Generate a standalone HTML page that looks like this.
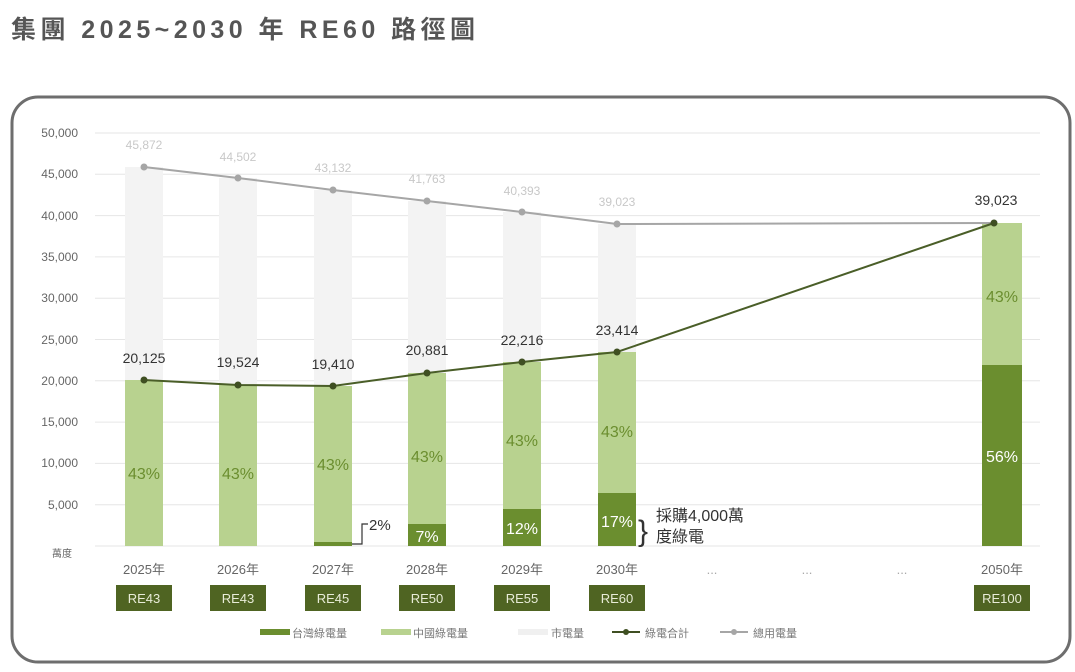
<!DOCTYPE html>
<html><head><meta charset="utf-8"><style>
body{margin:0;background:#fff;width:1075px;height:667px;overflow:hidden;font-family:"Liberation Sans","Noto Sans CJK TC",sans-serif}
</style></head><body>
<svg width="1075" height="667" xmlns="http://www.w3.org/2000/svg" font-family="Liberation Sans, Noto Sans CJK TC, sans-serif">
<text x="11" y="38" font-size="25" font-weight="bold" fill="#555" textLength="464" lengthAdjust="spacing">集團 2025~2030 年 RE60 路徑圖</text>
<rect x="12" y="97" width="1058" height="565" rx="26" fill="#fff" stroke="#6e6e6e" stroke-width="3"/>
<g stroke="#e6e6e6" stroke-width="1">
<line x1="95" x2="1040" y1="133" y2="133"/><line x1="95" x2="1040" y1="174.3" y2="174.3"/>
<line x1="95" x2="1040" y1="215.6" y2="215.6"/><line x1="95" x2="1040" y1="256.9" y2="256.9"/>
<line x1="95" x2="1040" y1="298.2" y2="298.2"/><line x1="95" x2="1040" y1="339.5" y2="339.5"/>
<line x1="95" x2="1040" y1="380.8" y2="380.8"/><line x1="95" x2="1040" y1="422.1" y2="422.1"/>
<line x1="95" x2="1040" y1="463.4" y2="463.4"/><line x1="95" x2="1040" y1="504.7" y2="504.7"/>
<line x1="95" x2="1040" y1="546" y2="546"/>
</g>
<g font-size="12" fill="#666" text-anchor="end">
<text x="78" y="137">50,000</text><text x="78" y="178">45,000</text><text x="78" y="220">40,000</text>
<text x="78" y="261">35,000</text><text x="78" y="302">30,000</text><text x="78" y="344">25,000</text>
<text x="78" y="385">20,000</text><text x="78" y="426">15,000</text><text x="78" y="467">10,000</text>
<text x="78" y="509">5,000</text><text x="72" y="557" font-size="10">萬度</text>
</g>
<g fill="#f3f3f3">
<rect x="125" y="167" width="38" height="213"/><rect x="219" y="178" width="38" height="206"/>
<rect x="314" y="190" width="38" height="195"/><rect x="408" y="201" width="38" height="172"/>
<rect x="503" y="212" width="38" height="150"/><rect x="598" y="224" width="38" height="128"/>
</g>
<g fill="#b8d28f">
<rect x="125" y="380" width="38" height="166"/><rect x="219" y="385" width="38" height="161"/>
<rect x="314" y="386" width="38" height="160"/><rect x="408" y="373" width="38" height="173"/>
<rect x="503" y="362" width="38" height="184"/><rect x="598" y="352" width="38" height="194"/>
<rect x="982" y="223" width="40" height="323"/>
</g>
<g fill="#6b8e2f">
<rect x="314" y="542" width="38" height="4"/><rect x="408" y="524" width="38" height="22"/>
<rect x="503" y="509" width="38" height="37"/><rect x="598" y="493" width="38" height="53"/>
<rect x="982" y="365" width="40" height="181"/>
</g>
<g font-size="16" fill="#6b8e2f" text-anchor="middle">
<text x="144" y="479">43%</text><text x="238" y="479">43%</text><text x="333" y="470">43%</text>
<text x="427" y="462">43%</text><text x="522" y="446">43%</text><text x="617" y="437">43%</text>
<text x="1002" y="302">43%</text>
</g>
<g font-size="16" fill="#fff" text-anchor="middle">
<text x="427" y="542">7%</text><text x="522" y="534">12%</text><text x="617" y="527">17%</text><text x="1002" y="462">56%</text>
</g>
<path d="M352 544 H362 V524 H368" fill="none" stroke="#333" stroke-width="1.2"/>
<text x="369" y="530" font-size="15" fill="#333">2%</text>
<text x="638" y="541" font-size="30" fill="#333">}</text>
<text x="656" y="521" font-size="16" fill="#333">採購4,000萬</text>
<text x="656" y="542" font-size="16" fill="#333">度綠電</text>
<polyline points="144,167 238,178 333,190 427,201 522,212 617,224 994,223" fill="none" stroke="#a6a6a6" stroke-width="2"/>
<g fill="#a6a6a6"><circle cx="144" cy="167" r="3.5"/><circle cx="238" cy="178" r="3.5"/><circle cx="333" cy="190" r="3.5"/><circle cx="427" cy="201" r="3.5"/><circle cx="522" cy="212" r="3.5"/><circle cx="617" cy="224" r="3.5"/></g>
<polyline points="144,380 238,385 333,386 427,373 522,362 617,352 994,223" fill="none" stroke="#4a5e28" stroke-width="2"/>
<g fill="#3f4f22"><circle cx="144" cy="380" r="3.5"/><circle cx="238" cy="385" r="3.5"/><circle cx="333" cy="386" r="3.5"/><circle cx="427" cy="373" r="3.5"/><circle cx="522" cy="362" r="3.5"/><circle cx="617" cy="352" r="3.5"/><circle cx="994" cy="223" r="3.5"/></g>
<g font-size="12" fill="#c8c8c8" text-anchor="middle">
<text x="144" y="149">45,872</text><text x="238" y="161">44,502</text><text x="333" y="172">43,132</text>
<text x="427" y="183">41,763</text><text x="522" y="195">40,393</text><text x="617" y="206">39,023</text>
</g>
<g font-size="14" fill="#333" text-anchor="middle">
<text x="144" y="363">20,125</text><text x="238" y="367">19,524</text><text x="333" y="369">19,410</text>
<text x="427" y="355">20,881</text><text x="522" y="345">22,216</text><text x="617" y="335">23,414</text>
<text x="996" y="205">39,023</text>
</g>
<g font-size="13" fill="#666" text-anchor="middle">
<text x="144" y="574">2025年</text><text x="238" y="574">2026年</text><text x="333" y="574">2027年</text>
<text x="427" y="574">2028年</text><text x="522" y="574">2029年</text><text x="617" y="574">2030年</text>
<text x="712" y="574" fill="#aaa">...</text><text x="807" y="574" fill="#aaa">...</text><text x="902" y="574" fill="#aaa">...</text>
<text x="1002" y="574">2050年</text>
</g>
<g fill="#4f6422">
<rect x="116" y="585" width="56" height="26"/><rect x="210" y="585" width="56" height="26"/>
<rect x="305" y="585" width="56" height="26"/><rect x="399" y="585" width="56" height="26"/>
<rect x="494" y="585" width="56" height="26"/><rect x="589" y="585" width="56" height="26"/>
<rect x="974" y="585" width="56" height="26"/>
</g>
<g font-size="13" fill="#e8ecd8" text-anchor="middle">
<text x="144" y="603">RE43</text><text x="238" y="603">RE43</text><text x="333" y="603">RE45</text>
<text x="427" y="603">RE50</text><text x="522" y="603">RE55</text><text x="617" y="603">RE60</text>
<text x="1002" y="603">RE100</text>
</g>
<g font-size="11" fill="#777">
<rect x="260" y="629" width="30" height="6" fill="#6b8e2f"/><text x="292" y="637">台灣綠電量</text>
<rect x="381" y="629" width="30" height="6" fill="#b8d28f"/><text x="413" y="637">中國綠電量</text>
<rect x="518" y="629" width="30" height="6" fill="#f0f0f0"/><text x="551" y="637">市電量</text>
<line x1="612" x2="640" y1="632" y2="632" stroke="#3f4f22" stroke-width="2"/><circle cx="626" cy="632" r="3" fill="#3f4f22"/><text x="645" y="637">綠電合計</text>
<line x1="720" x2="748" y1="632" y2="632" stroke="#a6a6a6" stroke-width="2"/><circle cx="734" cy="632" r="3" fill="#a6a6a6"/><text x="753" y="637">總用電量</text>
</g>
</svg>
</body></html>
